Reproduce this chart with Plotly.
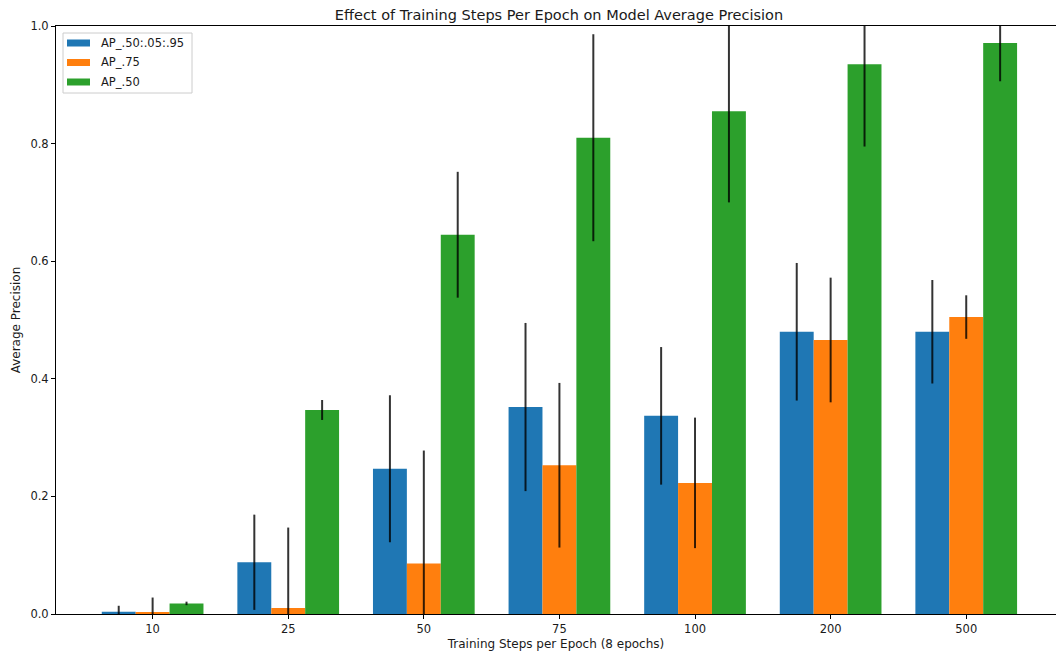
import plotly.graph_objects as go

# Training steps per epoch (8 epochs)
steps = ["10", "25", "50", "75", "100", "200", "500"]

# Average precision per metric, with standard deviation
ap_50_95 = [0.004, 0.088, 0.247, 0.352, 0.337, 0.480, 0.480]
ap_50_95_err = [0.010, 0.081, 0.125, 0.143, 0.117, 0.117, 0.088]

ap_75 = [0.002, 0.010, 0.086, 0.253, 0.223, 0.466, 0.505]
ap_75_err = [0.026, 0.137, 0.192, 0.140, 0.111, 0.106, 0.037]

ap_50 = [0.018, 0.347, 0.645, 0.810, 0.855, 0.935, 0.971]
ap_50_err = [0.003, 0.017, 0.107, 0.176, 0.155, 0.140, 0.065]

series = [
    ("AP_.50:.05:.95", ap_50_95, ap_50_95_err, "#1f77b4"),
    ("AP_.75", ap_75, ap_75_err, "#ff7f0e"),
    ("AP_.50", ap_50, ap_50_err, "#2ca02c"),
]

FONT = "DejaVu Sans, Arial, sans-serif"
TEXT = "#1a1a1a"

fig = go.Figure()
for name, vals, errs, color in series:
    fig.add_trace(go.Bar(
        x=steps, y=vals, name=name,
        marker=dict(color=color, line=dict(width=0)),
        error_y=dict(type="data", array=errs, visible=True,
                     color="rgba(0,0,0,0.8)", thickness=2, width=0),
        showlegend=False,
    ))

fig.update_layout(
    width=1056, height=655,
    margin=dict(l=56, r=0, t=26, b=41),
    paper_bgcolor="white", plot_bgcolor="white",
    barmode="group", bargap=0.25, bargroupgap=0,
    font=dict(family=FONT, size=11.5, color=TEXT),
    title=dict(text="Effect of Training Steps Per Epoch on Model Average Precision",
               x=(559 / 1056), xanchor="center", y=1 - 15 / 655, yanchor="middle",
               font=dict(size=14.5, family=FONT, color=TEXT)),
    xaxis=dict(
        type="category", range=[-0.7125, 6.662],
        showline=True, linecolor="#000000", linewidth=1, mirror=True,
        ticks="outside", ticklen=4, tickwidth=1, tickcolor="#000000",
        tickfont=dict(size=11.5),
        showgrid=False, zeroline=False,
        title=dict(text="Training Steps per Epoch (8 epochs)", standoff=4,
                   font=dict(size=12, family=FONT)),
    ),
    yaxis=dict(
        range=[0, 1], tickvals=[0, 0.2, 0.4, 0.6, 0.8, 1.0], tickformat=".1f",
        showline=True, linecolor="#000000", linewidth=1, mirror=False,
        ticks="outside", ticklen=4, tickwidth=1, tickcolor="#000000",
        tickfont=dict(size=11.5),
        showgrid=False, zeroline=False,
        title=dict(text="Average Precision", standoff=7,
                   font=dict(size=12, family=FONT)),
    ),
)

# Legend box drawn in the upper-left corner of the axes
px_w, px_h = 1056 - 56, 655 - 26 - 41


def ax_x(px):
    return (px - 56) / px_w


def ax_y(py):
    return (614 - py) / px_h


fig.add_shape(type="rect", xref="paper", yref="paper",
              x0=ax_x(63), x1=ax_x(192), y0=ax_y(93), y1=ax_y(33),
              line=dict(color="#cccccc", width=1), fillcolor="rgba(255,255,255,0.8)",
              layer="above")
row_y = [43, 62.5, 82]
for (name, _, _, color), ry in zip(series, row_y):
    fig.add_shape(type="rect", xref="paper", yref="paper",
                  x0=ax_x(67), x1=ax_x(90), y0=ax_y(ry + 3.5), y1=ax_y(ry - 3.5),
                  line=dict(width=0), fillcolor=color, layer="above")
    fig.add_annotation(xref="paper", yref="paper", x=ax_x(99), y=ax_y(ry),
                       text=name, showarrow=False, xanchor="left", yanchor="middle",
                       font=dict(size=11.5, family=FONT, color=TEXT))

fig.write_html("out.html")
